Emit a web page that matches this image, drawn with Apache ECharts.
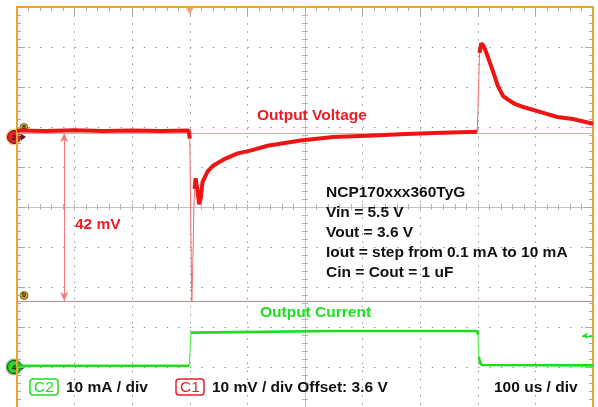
<!DOCTYPE html>
<html>
<head>
<meta charset="utf-8">
<script src="https://cdn.jsdelivr.net/npm/echarts@6/dist/echarts.min.js"></script>
<style>
html, body { margin: 0; padding: 0; background: #ffffff; }
#scope { width: 598px; height: 407px; }
</style>
</head>
<body>
<div id="scope"></div>
<script>
// Output voltage (C1), mV relative to the 3.6 V offset, sampled at voutTimeUs
const voutTimeUs = [0, 50, 100, 150, 200, 250, 298, 300, 301.6, 303.5, 305.5, 307, 308.5, 310,
  312.8, 316.3, 319, 322, 331, 341, 359, 383, 405, 435, 492, 549, 608, 665, 723, 770, 799,
  801, 803, 806, 810, 815, 821, 828, 835, 844, 851, 865, 879, 908, 938, 965, 1000];
const voutMv = [1.6, 1.5, 1.7, 1.5, 1.6, 1.5, 1.6, -0.4, -20, -41, -30, -18, -13, -10.3,
  -12.8, -16.8, -15.3, -11.3, -8.6, -7.1, -5.6, -4.1, -3.4, -2.2, -0.9, 0, 0.3, 0.7, 1.0, 1.2, 1.3,
  10.7, 21.0, 23.4, 22.8, 21.0, 18.6, 15.7, 12.7, 10.2, 9.5, 8.2, 7.5, 6.3, 5.0, 4.5, 3.3];

// Output current (C2), mA
const ioutTimeUs = [0, 150, 299, 300.5, 302, 304, 550, 799, 800.5, 802, 804, 808, 1000];
const ioutMa = [0.3, 0.3, 0.3, 4, 8.6, 9.0, 9.0, 9.0, 8.0, 2.5, 1.0, 0.5, 0.4];

// Cursors on C1 (mV) and the measured difference
const cursorAMv = 1;
const cursorBMv = -41;
const cursorArrowUs = 82;
const triggerUs = 300;
const triggerLevelMa = 7.8;

// Scope settings
const timePerDivUs = 100;
const voltPerDivMv = 10;
const ampPerDivMa = 10;
const divisions = 10;
const c1OffsetDiv = 3.25;   // divisions of C1 range above its reference
const c2OffsetDiv = 9;      // divisions of C2 range above its reference

const annotations = ['NCP170xxx360TyG', 'Vin = 5.5 V', 'Vout = 3.6 V',
  'Iout = step from 0.1 mA to 10 mA', 'Cin = Cout = 1 uF'];

const RED = '#ee1c24';
const GREEN = '#1fe01f';
const ORANGE = '#f2a232';
const GRIDGRAY = '#959595';
const FONT = '"Liberation Sans", Arial, sans-serif';

// Split a trace into a bold (slow) part and keep fast edges as a hairline
function pairs(ts, vs) { return ts.map((t, i) => [t, vs[i]]); }
function slowOnly(ts, vs, maxSlope) {
  const out = [];
  for (let i = 0; i < ts.length; i++) {
    out.push([ts[i], vs[i]]);
    if (i < ts.length - 1) {
      const s = Math.abs((vs[i + 1] - vs[i]) / (ts[i + 1] - ts[i]));
      if (s > maxSlope) out.push([(ts[i] + ts[i + 1]) / 2, null]);
    }
  }
  return out;
}

const chart = echarts.init(document.getElementById('scope'), null, { renderer: 'canvas' });

const frameTick = { show: true, inside: true, length: 8, lineStyle: { color: '#a9a9a9', width: 1 } };
const frameMinor = { show: true, splitNumber: 5, length: 4, lineStyle: { color: '#a9a9a9', width: 1 } };
const crossTick = { show: true, length: 3, lineStyle: { color: '#b4b4b4', width: 1 } };
const crossMinor = { show: true, splitNumber: 5, length: 3, lineStyle: { color: '#b4b4b4', width: 1 } };
const crossLine = { color: '#c2c2c2', width: 1 };
const half = divisions / 2;

const option = {
  animation: false,
  backgroundColor: '#ffffff',
  grid: { left: 17, top: 7, width: 576, height: 404, containLabel: false },
  xAxis: [
    { // top frame edge and vertical graticule
      type: 'value', min: -half, max: half, interval: 1, position: 'top',
      axisLine: { onZero: false, lineStyle: { color: ORANGE, width: 2 } },
      axisTick: frameTick, minorTick: frameMinor, axisLabel: { show: false },
      splitLine: { show: true, lineStyle: { color: GRIDGRAY, width: 1, type: [1.5, 6.58] } }
    },
    { // horizontal centre line, ticks up
      type: 'value', min: -half, max: half, interval: 1, position: 'bottom',
      axisLine: { onZero: true, onZeroAxisIndex: 0, lineStyle: crossLine },
      axisTick: Object.assign({}, crossTick, { inside: true }), minorTick: crossMinor,
      axisLabel: { show: false }, splitLine: { show: false }
    },
    { // horizontal centre line, ticks down
      type: 'value', min: -half, max: half, interval: 1, position: 'bottom',
      axisLine: { onZero: true, onZeroAxisIndex: 0, lineStyle: crossLine },
      axisTick: Object.assign({}, crossTick, { inside: false }), minorTick: crossMinor,
      axisLabel: { show: false }, splitLine: { show: false }
    },
    { // time base
      type: 'value', min: 0, max: timePerDivUs * divisions, show: false
    }
  ],
  yAxis: [
    { // left frame edge and horizontal graticule
      type: 'value', min: -half, max: half, interval: 1, position: 'left',
      axisLine: { onZero: false, lineStyle: { color: ORANGE, width: 2 } },
      axisTick: frameTick, minorTick: frameMinor, axisLabel: { show: false },
      splitLine: { show: true, lineStyle: { color: GRIDGRAY, width: 1, type: [1.5, 10.02] } }
    },
    { // right frame edge
      type: 'value', min: -half, max: half, interval: 1, position: 'right',
      axisLine: { onZero: false, lineStyle: { color: ORANGE, width: 2 } },
      axisTick: frameTick, minorTick: frameMinor, axisLabel: { show: false },
      splitLine: { show: false }
    },
    { // vertical centre line, ticks right
      type: 'value', min: -half, max: half, interval: 1, position: 'left',
      axisLine: { onZero: true, onZeroAxisIndex: 0, lineStyle: crossLine },
      axisTick: Object.assign({}, crossTick, { inside: true }), minorTick: crossMinor,
      axisLabel: { show: false }, splitLine: { show: false }
    },
    { // vertical centre line, ticks left
      type: 'value', min: -half, max: half, interval: 1, position: 'left',
      axisLine: { onZero: true, onZeroAxisIndex: 0, lineStyle: crossLine },
      axisTick: Object.assign({}, crossTick, { inside: false }), minorTick: crossMinor,
      axisLabel: { show: false }, splitLine: { show: false }
    },
    { // C1 voltage, mV around 3.6 V
      type: 'value', show: false,
      max: voltPerDivMv * c1OffsetDiv, min: voltPerDivMv * (c1OffsetDiv - divisions)
    },
    { // C2 current, mA
      type: 'value', show: false,
      max: ampPerDivMa * c2OffsetDiv, min: ampPerDivMa * (c2OffsetDiv - divisions)
    }
  ],
  series: [
    {
      name: 'C1 edges', type: 'line', xAxisIndex: 3, yAxisIndex: 4, z: 3,
      data: pairs(voutTimeUs, voutMv), showSymbol: false, symbol: 'none', silent: true,
      lineStyle: { color: '#f36b6b', width: 1 },
      markLine: {
        silent: true, symbol: 'none', z: 1, label: { show: false },
        data: [
          { yAxis: cursorAMv, lineStyle: { color: '#f3a0a0', width: 1.2, type: 'solid' } },
          { yAxis: cursorBMv, lineStyle: { color: '#c98c8c', width: 1.2, type: 'solid' } },
          [
            { coord: [cursorArrowUs, cursorAMv], symbol: 'arrow', symbolSize: [6, 9] },
            { coord: [cursorArrowUs, cursorBMv], symbol: 'arrow', symbolSize: [6, 9],
              lineStyle: { color: '#f27878', width: 1, type: 'solid' } }
          ]
        ]
      },
      markPoint: {
        silent: true, label: { show: false },
        data: [{ coord: [triggerUs, voltPerDivMv * c1OffsetDiv], symbol: 'triangle', symbolRotate: 180,
          symbolSize: [8, 7], symbolOffset: [0, 4], itemStyle: { color: '#f5a079' } }]
      }
    },
    {
      name: 'C1', type: 'line', xAxisIndex: 3, yAxisIndex: 4, z: 4,
      data: slowOnly(voutTimeUs, voutMv, 3), connectNulls: false,
      showSymbol: false, symbol: 'none', silent: true,
      lineStyle: { color: '#ee1414', width: 4 }
    },
    {
      name: 'C2 edges', type: 'line', xAxisIndex: 3, yAxisIndex: 5, z: 3,
      data: pairs(ioutTimeUs, ioutMa), showSymbol: false, symbol: 'none', silent: true,
      lineStyle: { color: '#55ee55', width: 1.2 },
      markLine: {
        silent: true, z: 5, label: { show: false },
        data: [[
          { coord: [timePerDivUs * divisions - 19, triggerLevelMa], symbol: 'arrow', symbolSize: [5, 6],
            lineStyle: { color: GREEN, width: 1, type: 'solid' } },
          { coord: [timePerDivUs * divisions, triggerLevelMa], symbol: 'none' }
        ]]
      }
    },
    {
      name: 'C2', type: 'line', xAxisIndex: 3, yAxisIndex: 5, z: 4,
      data: slowOnly(ioutTimeUs, ioutMa, 1.5), connectNulls: false,
      showSymbol: false, symbol: 'none', silent: true,
      lineStyle: { color: '#19e019', width: 2.6 }
    }
  ]
};

chart.setOption(option);

// Channel reference markers, cursor tags and annotation text
const yC1 = chart.convertToPixel({ yAxisIndex: 4 }, 0);
const yC2 = chart.convertToPixel({ yAxisIndex: 5 }, 0);
const yCa = chart.convertToPixel({ yAxisIndex: 4 }, cursorAMv);
const yCb = chart.convertToPixel({ yAxisIndex: 4 }, cursorBMv);

function txt(text, x, y, fill, size, weight, align) {
  return {
    type: 'text', z: 20, silent: true,
    style: {
      text: text, x: x, y: y, fill: fill,
      font: (weight || 'bold') + ' ' + (size || 15.5) + 'px ' + FONT,
      align: align || 'left', verticalAlign: 'middle',
      textAlign: align || 'left', textVerticalAlign: 'middle'
    }
  };
}
function channelTag(y, fill, ring, label) {
  return {
    type: 'group', z: 30, silent: true,
    children: [
      { type: 'circle', shape: { cx: 14, cy: y, r: 8.5 }, style: { fill: ring, opacity: 0.55 } },
      { type: 'circle', shape: { cx: 14, cy: y, r: 6.5 }, style: { fill: fill, stroke: '#303030', lineWidth: 1 } },
      { type: 'polygon', shape: { points: [[21, y - 3.5], [26, y], [21, y + 3.5]] }, style: { fill: fill === RED ? '#7a1010' : '#0c8a0c' } },
      txt(label, 14, y + 0.5, '#202020', 8, 'bold', 'center')
    ]
  };
}
function cursorTag(y, label) {
  return {
    type: 'group', z: 30, silent: true,
    children: [
      { type: 'circle', shape: { cx: 24, cy: y, r: 4 }, style: { fill: '#c9a227', stroke: '#6b5510', lineWidth: 0.8 } },
      txt(label, 24, y, '#2a2000', 6.5, 'bold', 'center')
    ]
  };
}
function channelBox(x, label, color) {
  return {
    type: 'group', z: 30, silent: true,
    children: [
      { type: 'rect', shape: { x: x, y: 379, width: 28, height: 16, r: 3 },
        style: { fill: '#ffffff', stroke: color, lineWidth: 1.5 } },
      txt(label, x + 14, 387.5, color, 15.5, 'normal', 'center')
    ]
  };
}

const elements = [
  channelTag(yC1, RED, ORANGE, '2'),
  channelTag(yC2, '#22dd22', '#118811', '4'),
  cursorTag(yCa - 5.5, 'a'),
  cursorTag(yCb - 5.5, 'b'),
  txt('Output Voltage', 257, 116, RED),
  txt('Output Current', 260, 313, GREEN),
  txt('42 mV', 75, 225, RED),
  channelBox(30, 'C2', GREEN),
  txt('10 mA / div', 66, 387.5, '#111111'),
  channelBox(176, 'C1', RED),
  txt('10 mV / div Offset: 3.6 V', 212, 387.5, '#111111'),
  txt('100 us / div', 494, 387.5, '#111111')
];
annotations.forEach((line, i) => elements.push(txt(line, 326, 193 + i * 20, '#111111')));

chart.setOption({ graphic: { elements: elements } });
</script>
</body>
</html>
